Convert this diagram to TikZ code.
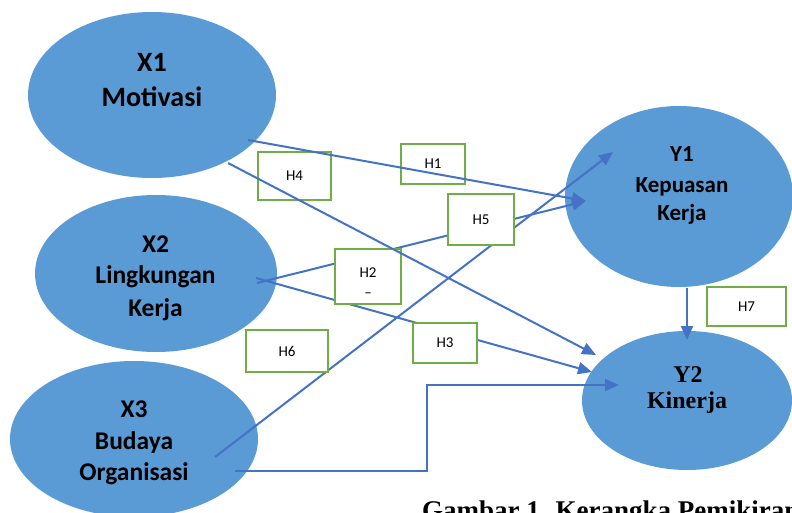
\documentclass[tikz,border=0pt]{standalone}
\usepackage{fontspec}
\usetikzlibrary{shapes.geometric,arrows.meta}
\newfontfamily\carlito{Carlito}
\newfontfamily\libserif{Liberation Serif}
\definecolor{ellblue}{HTML}{5B9BD5}
\definecolor{lineblue}{HTML}{4472C4}
\definecolor{boxgreen}{HTML}{70AD47}
\begin{document}
\begin{tikzpicture}[x=1pt,y=-1pt,
  ell/.style={ellipse,fill=ellblue,draw=none,inner sep=0pt,outer sep=0pt},
  hbox/.style={rectangle,draw=boxgreen,line width=2.2pt,fill=white,inner sep=0pt,outer sep=0pt,
    font=\carlito\fontsize{15}{18}\selectfont},
  hlbl/.style={inner sep=0pt,anchor=base,font=\carlito\fontsize{15}{18}\selectfont},
  conn/.style={draw=lineblue,line width=2pt,-{Triangle[length=14pt,width=12pt]}},
  tone/.style={inner sep=0pt,anchor=base,font=\carlito\bfseries\fontsize{28}{32}\selectfont},
  ttwo/.style={inner sep=0pt,anchor=base,font=\carlito\bfseries\fontsize{25.5}{29}\selectfont},
  tthree/.style={inner sep=0pt,anchor=base,font=\carlito\bfseries\fontsize{23}{27}\selectfont},
  tser/.style={inner sep=0pt,anchor=base,font=\libserif\bfseries\fontsize{24}{28}\selectfont}]
\clip (0,0) rectangle (792,513);
\fill[white] (0,0) rectangle (792,513);
% ellipses
\node[ell,minimum width=248pt,minimum height=166pt] (x1) at (152,95) {};
\node[ell,minimum width=242pt,minimum height=157pt] (x2) at (156,273.5) {};
\node[ell,minimum width=248pt,minimum height=156pt] (x3) at (134,439) {};
\node[ell,minimum width=228pt,minimum height=181pt] (y1) at (679,196.5) {};
\node[ell,minimum width=210pt,minimum height=139pt] (y2) at (687,400.5) {};
% ellipse texts
\node[tone] (x1a) at (152,72) {X1};
\node[tone] (x1b) at (152,107) {Motivasi};
\node[ttwo] (x2a) at (155.5,252) {X2};
\node[ttwo] (x2b) at (155.5,283) {Lingkungan};
\node[ttwo] (x2c) at (155.5,316) {Kerja};
\node[ttwo] (x3a) at (134,417) {X3};
\node[ttwo] (x3b) at (134,449) {Budaya};
\node[ttwo] (x3c) at (134,480) {Organisasi};
\node[tthree] (y1a) at (682,162) {Y1};
\node[tthree] (y1b) at (682,193) {Kepuasan};
\node[tthree] (y1c) at (682,220) {Kerja};
\node[tser] (y2a) at (688,382) {Y2};
\node[tser] (y2b) at (687,408) {Kinerja};
% connector end points
\coordinate (s1) at (248,140);
\coordinate (e1) at (586,201);
\coordinate (s4) at (228,163);
\coordinate (e4) at (596,355);
\coordinate (s2) at (257,283);
\coordinate (s3) at (256,278);
\coordinate (e3) at (592,372);
\coordinate (s6) at (215,457);
\coordinate (e6) at (613,152);
\coordinate (s8) at (235,471);
\coordinate (m8) at (427,471);
\coordinate (e8) at (619,385);
\coordinate (s7) at (687,288);
\coordinate (e7) at (687,340);
% connectors under boxes
\draw[conn] (s2) -- (e1);
\draw[conn] (s3) -- (e3);
\draw[conn] (s6) -- (e6);
\draw[conn] (s8) -- (m8) |- (e8);
\draw[conn] (s7) -- (e7);
% hypothesis boxes
\node[hbox,minimum width=73pt,minimum height=48pt] (h4) at (294.5,176) {H4};
\node[hbox,minimum width=64pt,minimum height=40pt] (h1) at (433,164) {H1};
\node[hbox,minimum width=66pt,minimum height=51pt] (h5) at (481,219.5) {H5};
\node[hbox,minimum width=66pt,minimum height=55pt] (h2) at (368,276.5) {};
\node[hlbl] (h2a) at (368,277) {H2};
\node[hlbl] (h2b) at (368,297) {–};
\node[hbox,minimum width=64pt,minimum height=40pt] (h3) at (445,343) {H3};
\node[hbox,minimum width=82pt,minimum height=42pt] (h6) at (287,351) {H6};
\node[hbox,minimum width=79pt,minimum height=39pt] (h7) at (746.5,306.5) {H7};
% connectors over boxes
\draw[conn] (s1) -- (e1);
\draw[conn] (s4) -- (e4);
% caption (cut off at the lower edge, as in the reference)
\node[inner sep=0pt,anchor=base west,font=\libserif\bfseries\fontsize{27}{32}\selectfont] (cap) at (422,519.5) {Gambar 1. Kerangka Pemikiran};
\end{tikzpicture}
\end{document}
